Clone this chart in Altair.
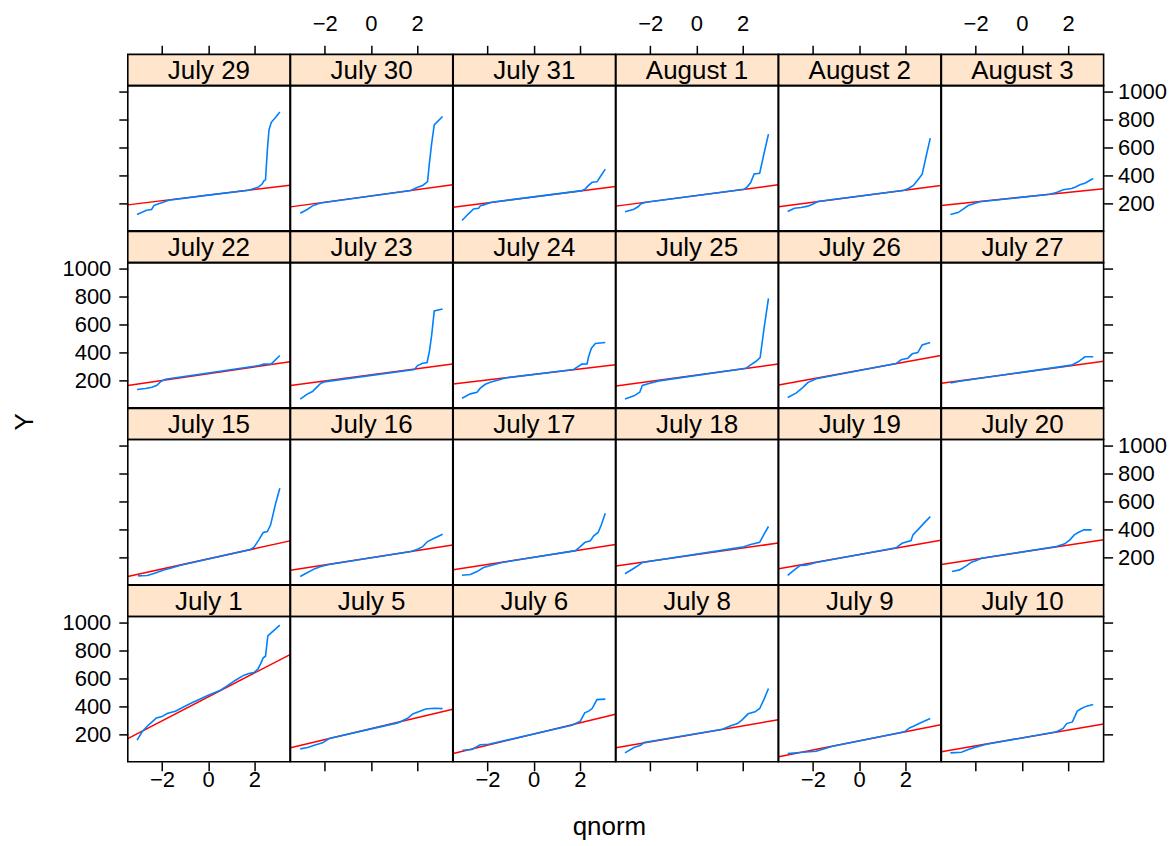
import altair as alt
import pandas as pd

FONT = "Liberation Sans"

# ---- panel layout (top row first, as in the lattice display) ----
panel_rows = [
    ["July 29", "July 30", "July 31", "August 1", "August 2", "August 3"],
    ["July 22", "July 23", "July 24", "July 25", "July 26", "July 27"],
    ["July 15", "July 16", "July 17", "July 18", "July 19", "July 20"],
    ["July 1", "July 5", "July 6", "July 8", "July 9", "July 10"],
]

# ---- reference (red) line: intercept and slope per panel, same order ----
line_intercept = [258, 252, 245, 255, 250, 243,
                  246, 238, 241, 236, 270, 256,
                  188, 196, 200, 218, 218, 236,
                  467, 239, 201, 202, 152, 173]
line_slope = [20.1, 22.5, 21.1, 21.8, 21.9, 17.1,
              24.2, 21.9, 19.8, 22.5, 30.1, 22.5,
              36.4, 25.6, 25.9, 23.5, 29.0, 25.3,
              85.7, 39.3, 39.9, 28.6, 32.5, 28.4]

# ---- sample quantile curves (qnorm, Y) ----
jul29_q = [-3.08, -2.67, -2.45, -2.35, -2.21, -1.70, 0.0, 1.76, 1.98, 2.19, 2.34, 2.41, 2.48, 2.56, 2.63, 2.73, 2.92, 3.10]
jul29_y = [119, 150, 155, 183, 193, 221, 258, 293, 305, 317, 339, 360, 367, 582, 725, 780, 816, 854]
jul30_q = [-3.06, -2.74, -2.53, -2.31, -2.17, 1.73, 2.02, 2.24, 2.45, 2.53, 2.63, 2.74, 3.10]
jul30_y = [128, 157, 181, 195, 202, 291, 315, 327, 355, 487, 630, 761, 821]
jul31_q = [-3.10, -2.82, -2.60, -2.38, -2.31, -2.17, -1.81, 2.09, 2.24, 2.35, 2.53, 2.74, 2.89, 3.10]
jul31_y = [76, 124, 159, 164, 181, 188, 207, 290, 303, 324, 350, 353, 391, 444]
aug1_q = [-3.09, -2.70, -2.51, -2.41, -2.19, 2.07, 2.21, 2.35, 2.50, 2.74, 2.93, 3.12]
aug1_y = [138, 157, 176, 195, 207, 300, 319, 348, 410, 415, 558, 695]
aug2_q = [-3.09, -2.80, -2.51, -2.22, -2.01, -1.79, 1.96, 2.15, 2.35, 2.54, 2.73, 2.90, 3.08]
aug2_y = [140, 164, 169, 179, 193, 212, 293, 307, 327, 367, 408, 535, 666]
aug3_q = [-3.09, -2.76, -2.54, -2.32, -2.11, -1.82, 1.21, 1.50, 1.79, 2.15, 2.30, 2.54, 2.73, 3.09]
aug3_y = [119, 133, 157, 183, 195, 210, 264, 276, 296, 305, 315, 334, 343, 377]

jul22_q = [-3.08, -2.72, -2.43, -2.22, -2.06, -1.85, 2.19, 2.41, 2.73, 3.10]
jul22_y = [133, 140, 150, 164, 190, 207, 305, 315, 317, 377]
jul23_q = [-3.06, -2.74, -2.53, -2.38, -2.17, -1.95, 1.88, 2.02, 2.24, 2.43, 2.53, 2.63, 2.74, 3.10]
jul23_y = [64, 102, 119, 143, 179, 190, 277, 305, 321, 327, 405, 525, 697, 711]
jul24_q = [-3.10, -2.74, -2.45, -2.31, -2.09, -1.88, -1.52, -1.23, 1.73, 2.09, 2.31, 2.38, 2.50, 2.67, 3.10]
jul24_y = [71, 102, 114, 143, 171, 186, 202, 216, 277, 315, 317, 370, 429, 463, 470]
jul25_q = [-3.09, -2.70, -2.45, -2.34, -2.05, -1.62, 2.14, 2.35, 2.57, 2.76, 2.93, 3.12]
jul25_y = [66, 88, 114, 162, 176, 195, 285, 310, 334, 362, 573, 787]
jul26_q = [-3.09, -2.73, -2.44, -2.22, -1.86, 1.60, 1.82, 2.11, 2.30, 2.54, 2.73, 3.08]
jul26_y = [76, 107, 147, 183, 210, 319, 346, 358, 389, 398, 453, 470]
jul27_q = [-3.09, -2.69, 2.15, 2.44, 2.73, 3.09]
jul27_y = [181, 193, 308, 332, 368, 368]

jul15_q = [-3.04, -2.64, -2.35, -1.92, -1.56, -1.20, 1.83, 1.98, 2.19, 2.38, 2.56, 2.70, 2.92, 3.10]
jul15_y = [66, 69, 83, 109, 124, 143, 255, 272, 324, 377, 384, 432, 587, 694]
jul16_q = [-3.06, -2.74, -2.45, -2.17, -1.81, 1.73, 2.02, 2.24, 2.45, 2.74, 3.10]
jul16_y = [62, 90, 116, 133, 148, 241, 257, 276, 312, 336, 365]
jul17_q = [-3.10, -2.74, -2.45, -2.17, -1.81, -1.37, 1.81, 2.02, 2.21, 2.45, 2.60, 2.79, 2.93, 3.10]
jul17_y = [71, 76, 97, 126, 143, 162, 247, 276, 305, 317, 353, 377, 432, 515]
jul18_q = [-3.09, -2.70, -2.48, -2.34, 1.99, 2.35, 2.74, 2.93, 3.12]
jul18_y = [81, 121, 145, 162, 272, 291, 307, 365, 420]
jul19_q = [-3.09, -2.80, -2.56, -2.30, -1.86, 1.60, 1.86, 2.25, 2.33, 2.54, 2.83, 3.08]
jul19_y = [69, 109, 140, 143, 162, 267, 300, 319, 360, 396, 448, 491]
jul20_q = [-3.02, -2.69, -2.40, -2.18, -1.96, -1.75, 1.50, 1.86, 2.08, 2.27, 2.44, 2.69, 3.02]
jul20_y = [97, 109, 138, 164, 176, 193, 276, 296, 324, 360, 377, 396, 396]

jul1_q = [-3.08, -2.86, -2.64, -2.43, -2.24, -2.00, -1.78, -1.42, -1.13, -0.77, 0.0, 0.53, 0.82, 1.18, 1.55, 1.76, 1.98, 2.15, 2.27, 2.38, 2.48, 2.58, 2.77, 3.10]
jul1_y = [157, 217, 257, 288, 317, 326, 348, 365, 389, 420, 479, 515, 546, 587, 623, 635, 642, 666, 706, 747, 759, 904, 933, 981]
jul5_q = [-3.06, -2.74, -2.45, -2.09, -1.81, 1.16, 1.59, 1.81, 2.09, 2.38, 2.74, 3.10]
jul5_y = [95, 105, 121, 138, 169, 281, 314, 345, 362, 381, 386, 383]
jul6_q = [-3.08, -2.67, -2.31, -1.95, 1.66, 2.02, 2.21, 2.38, 2.53, 2.74, 3.10]
jul6_y = [85, 90, 124, 128, 264, 293, 353, 365, 384, 448, 451]
jul8_q = [-3.09, -2.70, -2.41, -2.27, 1.13, 1.49, 1.78, 1.99, 2.24, 2.54, 2.74, 2.93, 3.12]
jul8_y = [66, 104, 121, 140, 236, 260, 276, 305, 346, 360, 384, 451, 527]
jul9_q = [-3.09, -2.58, -1.86, -1.14, 1.96, 2.18, 2.40, 2.69, 3.08]
jul9_y = [61, 69, 78, 114, 217, 245, 260, 284, 312]
jul10_q = [-3.09, -2.61, -2.32, -1.96, -1.53, 1.50, 1.79, 1.94, 2.19, 2.40, 2.58, 2.80, 3.09]
jul10_y = [66, 71, 90, 109, 128, 217, 241, 276, 288, 365, 384, 401, 413]

curves = {
    "July 29": (jul29_q, jul29_y), "July 30": (jul30_q, jul30_y), "July 31": (jul31_q, jul31_y),
    "August 1": (aug1_q, aug1_y), "August 2": (aug2_q, aug2_y), "August 3": (aug3_q, aug3_y),
    "July 22": (jul22_q, jul22_y), "July 23": (jul23_q, jul23_y), "July 24": (jul24_q, jul24_y),
    "July 25": (jul25_q, jul25_y), "July 26": (jul26_q, jul26_y), "July 27": (jul27_q, jul27_y),
    "July 15": (jul15_q, jul15_y), "July 16": (jul16_q, jul16_y), "July 17": (jul17_q, jul17_y),
    "July 18": (jul18_q, jul18_y), "July 19": (jul19_q, jul19_y), "July 20": (jul20_q, jul20_y),
    "July 1": (jul1_q, jul1_y), "July 5": (jul5_q, jul5_y), "July 6": (jul6_q, jul6_y),
    "July 8": (jul8_q, jul8_y), "July 9": (jul9_q, jul9_y), "July 10": (jul10_q, jul10_y),
}

x_ticks = [-2, 0, 2]
y_ticks = [200, 400, 600, 800, 1000]
x_domain = [-3.48, 3.54]
y_domain = [2, 1043]

W, H, STRIP = 162.5, 145.5, 31.3
TICK = 9
LABEL_SIZE = 22
STRIP_SIZE = 26


def axis(orient, values, show_labels, **extra):
    kw = dict(orient=orient, values=values, labels=show_labels, domain=False, grid=False,
              ticks=True, tickSize=TICK, tickWidth=1.5, tickColor="black",
              labelFont=FONT, labelFontSize=LABEL_SIZE, labelColor="black",
              labelPadding=-1, title="", format="d")
    kw.update(extra)
    return alt.Axis(**kw)


def make_panel(r, c, name, idx):
    xs = alt.Scale(domain=x_domain, nice=False, zero=False)
    ys = alt.Scale(domain=y_domain, nice=False, zero=False)
    q, y = curves[name]
    blue_df = pd.DataFrame({"q": q, "y": y})
    a, b = line_intercept[idx], line_slope[idx]
    red_df = pd.DataFrame({"q": x_domain, "y": [a + b * x_domain[0], a + b * x_domain[1]]})

    # axes (alternating, lattice style)
    bottom_ax = None
    if r == 3:
        extra = {}
        if c == 3:
            extra = dict(title="qnorm", titleX=-7, titleY=65, titleFont=FONT,
                         titleFontSize=STRIP_SIZE, titleFontWeight="normal",
                         titleColor="black", titleBaseline="middle", titleAlign="center")
        bottom_ax = axis("bottom", x_ticks, c % 2 == 0, **extra)
    top_ax = None
    if r == 0:
        top_ax = axis("top", x_ticks, c % 2 == 1, offset=STRIP, labelPadding=10)
    left_ax = None
    if c == 0:
        extra = {}
        if r == 1:
            extra = dict(title="Y", titleX=-103.3, titleY=159, titleAngle=270, titleFont=FONT,
                         titleFontSize=STRIP_SIZE, titleFontWeight="normal",
                         titleColor="black", titleBaseline="middle", titleAlign="center")
        left_ax = axis("left", y_ticks, r % 2 == 1, labelPadding=8, **extra)
    right_ax = None
    if c == 5:
        right_ax = axis("right", y_ticks, r % 2 == 0, labelPadding=5)

    one = pd.DataFrame({"k": [0]})
    strip = alt.Chart(one).mark_rect(fill="#ffe5cc", stroke="black", strokeWidth=1.6).encode(
        x=alt.value(0), x2=alt.value(W), y=alt.value(-STRIP), y2=alt.value(0))
    label = alt.Chart(one).mark_text(text=name, font=FONT, fontSize=STRIP_SIZE, color="black",
                                     align="center", baseline="alphabetic").encode(
        x=alt.value(W / 2), y=alt.value(-STRIP / 2 + 0.358 * STRIP_SIZE))

    red = alt.Chart(red_df).mark_line(color="#ff0000", strokeWidth=1.5, clip=True).encode(
        x=alt.X("q:Q", scale=xs, axis=bottom_ax),
        y=alt.Y("y:Q", scale=ys, axis=left_ax))
    blue = alt.Chart(blue_df).mark_line(color="#0080ff", strokeWidth=1.6, clip=True).encode(
        x=alt.X("q:Q", scale=xs, axis=top_ax),
        y=alt.Y("y:Q", scale=ys, axis=right_ax))
    border = alt.Chart(one).mark_rect(fillOpacity=0, stroke="black", strokeWidth=1.6).encode(
        x=alt.value(0), x2=alt.value(W), y=alt.value(0), y2=alt.value(H))

    return alt.layer(strip, label, red, blue, border).resolve_axis(
        x="independent", y="independent").properties(width=W, height=H)


panels = []
idx = 0
for r, row in enumerate(panel_rows):
    for c, name in enumerate(row):
        panels.append(make_panel(r, c, name, idx))
        idx += 1

chart = alt.concat(*panels, columns=6, spacing={"row": STRIP, "column": 0}, bounds="flush").properties(
    padding={"left": 3, "top": 3, "right": 0, "bottom": 0}
).configure(font=FONT, background="white").configure_view(strokeWidth=0)

chart.save("out.html", embed_options={"renderer": "svg", "actions": False})
